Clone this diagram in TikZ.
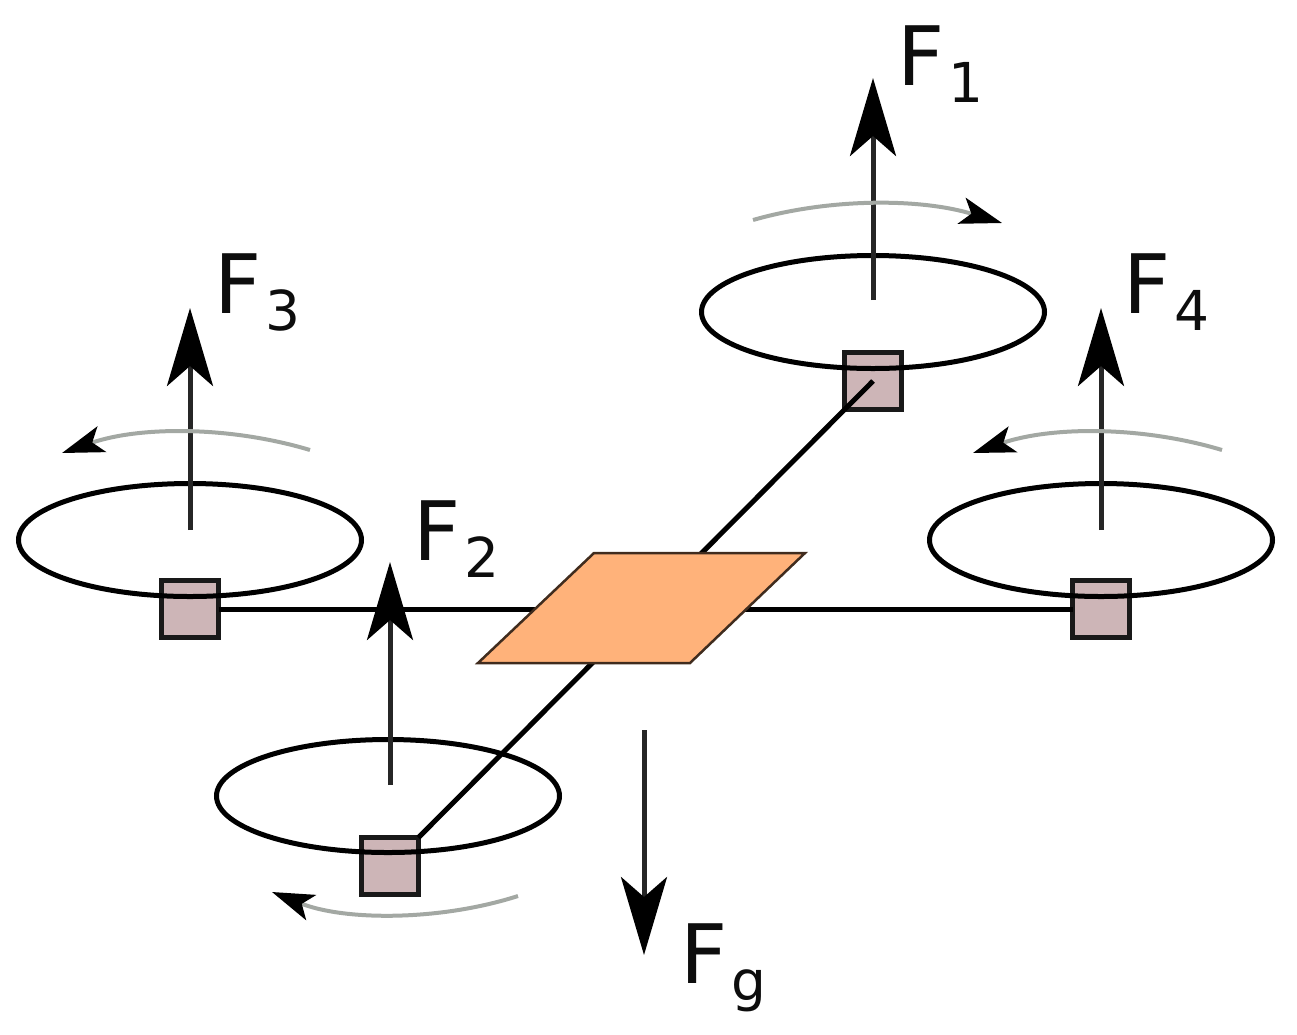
\documentclass[tikz,border=0pt]{standalone}
\usepackage{fontspec}
\setmainfont{DejaVu Sans}
\usetikzlibrary{arrows.meta,shapes.geometric}
\definecolor{motor}{HTML}{CDB5B7}
\definecolor{body}{HTML}{FFB27A}
\definecolor{spin}{HTML}{A3A8A3}
\newcommand{\flabel}[1]{\fontsize{82}{90}\selectfont F\kern4pt\raisebox{-17pt}{\fontsize{55}{60}\selectfont #1}}
\begin{document}
\begin{tikzpicture}[
    x=1pt, y=-1pt,
    motor/.style={rectangle, draw=black!90, fill=motor, line width=5pt, minimum size=57pt, inner sep=0pt, outer sep=0pt},
    rotor/.style={ellipse, draw=black, line width=5pt, minimum width=343pt, minimum height=113pt, inner sep=0pt, outer sep=0pt},
    arm/.style={draw=black, line width=5pt},
    force/.style={draw=black!85, line width=5pt, -{Stealth[length=78pt, width=46pt, inset=20pt, color=black]}},
    spin/.style={draw=spin, line width=4pt, -{Stealth[length=42pt, width=27pt, inset=10pt, color=black]}},
    flab/.style={anchor=base west, inner sep=0pt, text=black!95},
  ]
  \useasboundingbox (0,0) rectangle (1297,1034);

  % motors
  \node[motor] (m1) at (873,381) {};
  \node[motor] (m2) at (390,866) {};
  \node[motor] (m3) at (190,609) {};
  \node[motor] (m4) at (1101,609) {};

  % rotors
  \node[rotor] (r1) at (873,312) {};
  \node[rotor] (r2) at (388,796) {};
  \node[rotor] (r3) at (190,540) {};
  \node[rotor] (r4) at (1101,540) {};

  % arms
  \draw[arm] (m1.center) -- (m2.north east);
  \draw[arm] (m3.east) -- (m4.west);

  % centre plate
  \coordinate (b1) at (594,553);
  \coordinate (b2) at (805,553);
  \coordinate (b3) at (690,663);
  \coordinate (b4) at (478,663);
  \filldraw[fill=body, draw=black!75!body, line width=2.5pt, line join=miter] (b1) -- (b2) -- (b3) -- (b4) -- cycle;

  % thrust and weight
  \coordinate (s1) at (873,300);
  \coordinate (e1) at (873,78);
  \coordinate (s2) at (390,785);
  \coordinate (e2) at (390,562);
  \coordinate (s3) at (190,530);
  \coordinate (e3) at (190,308);
  \coordinate (s4) at (1101,530);
  \coordinate (e4) at (1101,308);
  \coordinate (sg) at (644,730);
  \coordinate (eg) at (644,955);
  \draw[force] (s1) -- (e1);
  \draw[force] (s2) -- (e2);
  \draw[force] (s3) -- (e3);
  \draw[force] (s4) -- (e4);
  \draw[force] (sg) -- (eg);

  % spin directions
  \coordinate (a1) at (753,220);
  \coordinate (c1) at (1002,223);
  \coordinate (a2) at (518,896);
  \coordinate (c2) at (272,892);
  \coordinate (a3) at (310,450);
  \coordinate (c3) at (62,453);
  \coordinate (a4) at (1222,450);
  \coordinate (c4) at (973,453);
  \draw[spin] (a1) .. controls (830,198) and (920,198) .. (c1);
  \draw[spin] (a2) .. controls (440,921) and (345,921) .. (c2);
  \draw[spin] (a3) .. controls (230,426) and (140,426) .. (c3);
  \draw[spin] (a4) .. controls (1142,426) and (1052,426) .. (c4);

  % labels
  \node[flab] (l1) at (897,85) {\flabel{1}};
  \node[flab] (l2) at (413,560) {\flabel{2}};
  \node[flab] (l3) at (214,313) {\flabel{3}};
  \node[flab] (l4) at (1123,313) {\flabel{4}};
  \node[flab] (lg) at (680,983) {\flabel{g}};
\end{tikzpicture}
\end{document}
